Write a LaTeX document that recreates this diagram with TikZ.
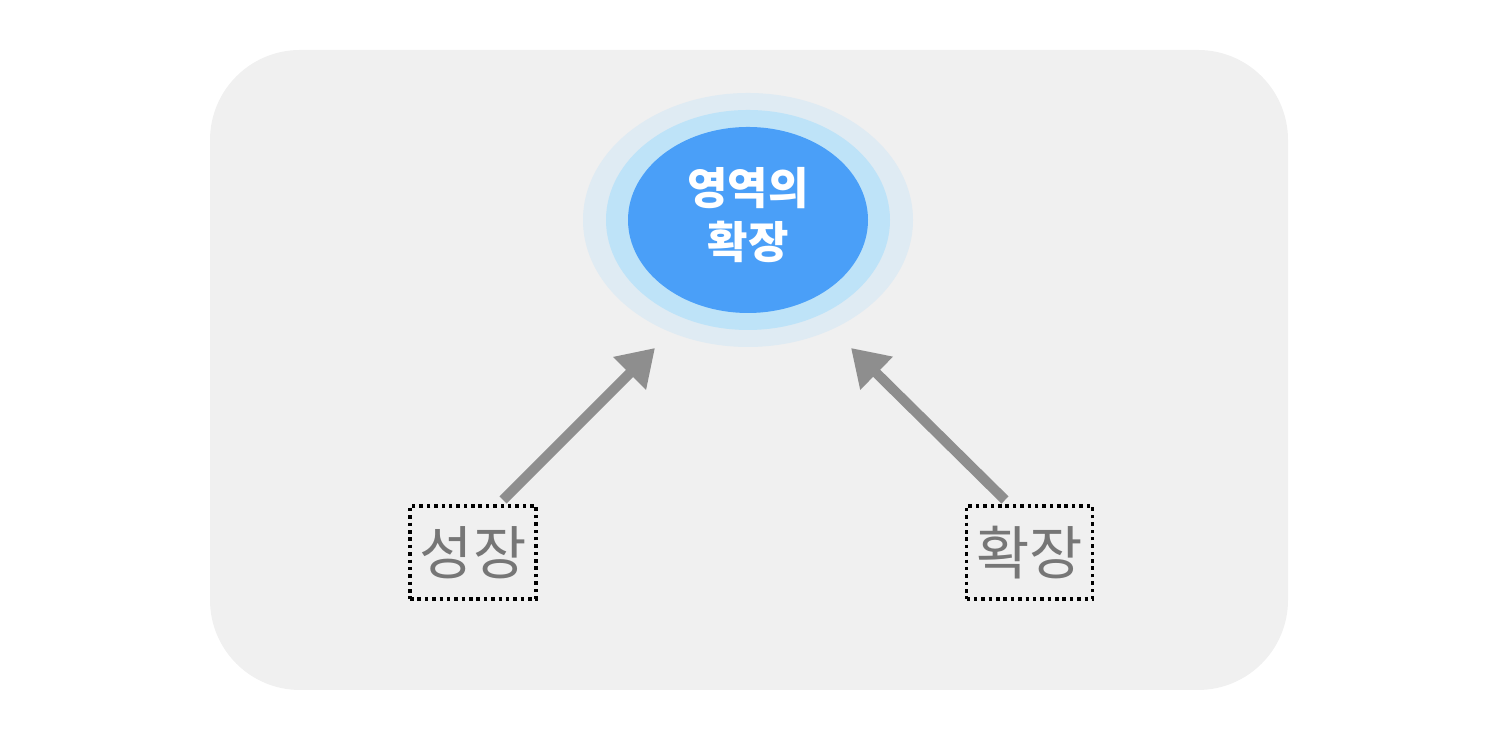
\documentclass[tikz,border=0pt]{standalone}
\usepackage{fontspec}
\newfontfamily\kr{Noto Sans CJK KR}
\usetikzlibrary{arrows.meta,shapes.geometric}
\definecolor{PanelClr}{HTML}{F0F0F0}
\definecolor{CoreClr}{HTML}{4A9FF8}
\definecolor{RingClr}{HTML}{BEE3F8}
\definecolor{HaloClr}{HTML}{DFEBF3}
\definecolor{ArrowClr}{HTML}{8E8E8E}
\definecolor{WordClr}{HTML}{767676}

\begin{document}
\begin{tikzpicture}[
  blob/.style={ellipse,draw=none,inner sep=0pt},
  wordbox/.style={draw=black,line width=1pt,dash pattern=on 1pt off 1.1pt,
    minimum width=1.26cm,minimum height=0.93cm,inner sep=0pt,
    text=WordClr,font=\kr\fontsize{16.5}{19}\selectfont},
  push/.style={ArrowClr,line width=2.85pt,-{Triangle[length=0.36cm,width=0.44cm]}}]

\useasboundingbox (0,0) rectangle (14.92,7.40);

\fill[PanelClr,rounded corners=0.9cm] (2.10,0.50) rectangle (12.88,6.90);

\node[blob,fill=HaloClr,minimum width=3.30cm,minimum height=2.54cm] (halo) at (7.48,5.20) {};
\node[blob,fill=RingClr,minimum width=2.84cm,minimum height=2.20cm] (ring) at (halo.center) {};
\node[blob,fill=CoreClr,minimum width=2.40cm,minimum height=1.86cm] (core) at (halo.center) {};
\node[align=center,text=white,font=\kr\bfseries\fontsize{12.5}{15.2}\selectfont] (title) at (7.48,5.25) {영역의\\확장};

\node[wordbox] (grow) at (4.73,1.875) {성장};
\node[wordbox] (widen) at (10.295,1.875) {확장};

\coordinate (growtail) at (5.03,2.40);
\coordinate (growtip) at (6.55,3.92);
\coordinate (widentail) at (10.05,2.40);
\coordinate (widentip) at (8.51,3.92);

\draw[push] (growtail) -- (growtip);
\draw[push] (widentail) -- (widentip);
\end{tikzpicture}
\end{document}
